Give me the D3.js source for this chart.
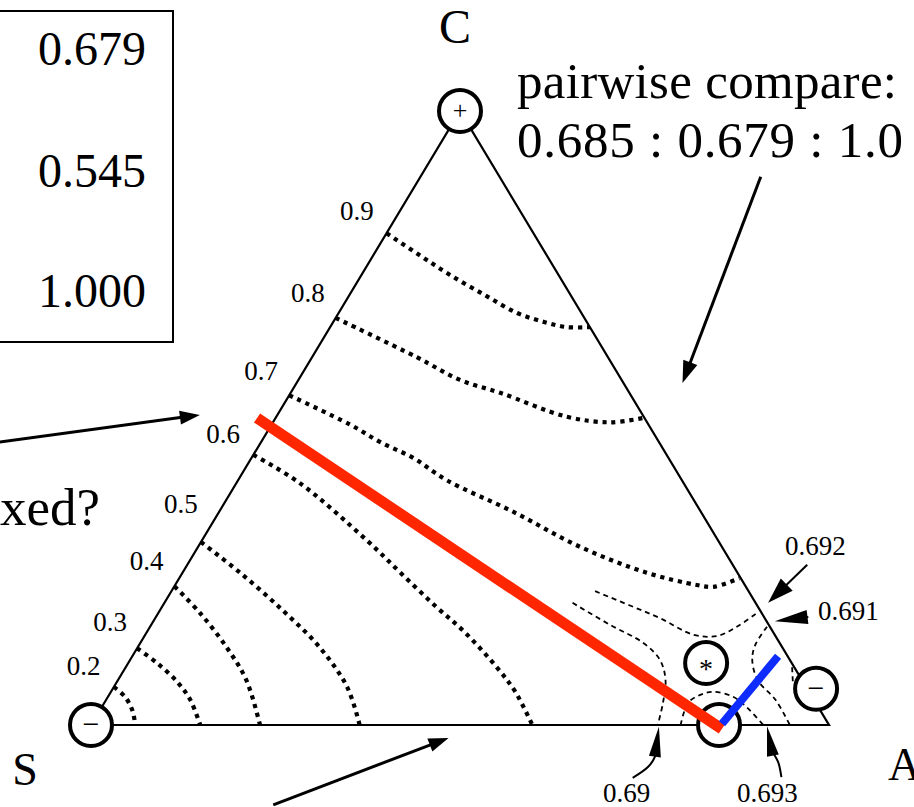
<!DOCTYPE html>
<html><head><meta charset="utf-8">
<script src="https://cdn.jsdelivr.net/npm/d3@7"></script>
<style>body{margin:0;background:#fff} text{font-family:"Liberation Serif","DejaVu Serif",serif}</style>
</head><body>
<svg id="chart" width="914" height="807"></svg>
<script>
// Ternary points are [A share, C share]; S share = 1 - A - C
const vertexNames = ["S", "A", "C"];
const contourLevels = ["0.9","0.8","0.7","0.6","0.5","0.4","0.3","0.2"];
const contour09 = [[0,0.801],[0.063,0.765],[0.120,0.733],[0.184,0.700],[0.242,0.671],[0.287,0.656],[0.321,0.648],[0.352,0.648]];
const contour08 = [[0,0.663],[0.142,0.599],[0.219,0.562],[0.284,0.541],[0.394,0.502],[0.457,0.493],[0.498,0.500]];
const contour07 = [[0,0.537],[0.107,0.489],[0.161,0.461],[0.219,0.435],[0.282,0.399],[0.399,0.347],[0.518,0.290],[0.629,0.248],[0.707,0.228],[0.731,0.225],[0.759,0.239]];
const contour06 = [[0,0.440],[0.086,0.394],[0.223,0.301],[0.294,0.249],[0.368,0.195],[0.431,0.151],[0.504,0.093],[0.548,0.054],[0.598,0]];
const contour05 = [[0,0.298],[0.078,0.248],[0.166,0.187],[0.246,0.127],[0.316,0.062],[0.364,0]];
const contour04 = [[0,0.226],[0.057,0.182],[0.120,0.127],[0.174,0.073],[0.229,0]];
const contour03 = [[0,0.125],[0.039,0.101],[0.082,0.070],[0.114,0.041],[0.148,0]];
const contour02 = [[0,0.062],[0.023,0.046],[0.044,0.024],[0.060,0]];
const labelEdgeC = [0.837,0.704,0.577,0.474,0.360,0.267,0.168,0.096];

// fine contours near the optimum
const fineLevels = ["0.691","0.69","0.693","0.692",""];
const contour0691 = [[0.574,0.218],[0.632,0.195],[0.684,0.174],[0.743,0.147],[0.776,0.145],[0.795,0.160],[0.811,0.182]];
const contour0690 = [[0.553,0.199],[0.622,0.163],[0.681,0.134],[0.718,0.106],[0.742,0.073],[0.757,0.036],[0.768,0]];
const contour0693 = [[0.799,0],[0.791,0.036],[0.801,0.049],[0.816,0.054],[0.847,0.046],[0.874,0.029],[0.911,0]];
const contour0692 = [[0.836,0.160],[0.835,0.130],[0.843,0.106],[0.867,0.073],[0.907,0.041],[0.947,0]];
const contourEdge = [[0.903,0.094],[0.916,0.070]];

const redPath = [[-0.025,0.500],[0.858,-0.0065]];
const bluePath = [[0.854,0.002],[0.875,0.112]];

const markerPoints = [[0,1],[0,0],[0.851,0],[0.783,0.101],[0.953,0.059]];
const markerSymbols = ["+","\u2212","","*","\u2212"];

const boxValues = ["0.679","0.545","1.000"];
const compareLines = ["pairwise compare:","0.685 : 0.679 : 1.0"];
const sideQuestion = "fixed?";

// arrows: shaft points then tip
const arrowShafts = [
  [[-0.354,0.461]],
  [[0.312,-0.130]],
  [[0.461,0.893]],
  [[0.840,0.261]],
  [[0.884,0.176]],
  [[0.777,-0.086],[0.789,-0.068],[0.790,-0.052]],
  [[0.978,-0.085],[0.961,-0.060],[0.945,-0.044]]
];
const arrowTips = [[-0.105,0.505],[0.495,-0.021],[0.523,0.557],[0.818,0.199],[0.842,0.169],[0.771,-0.003],[0.917,-0.002]];
const fineLabels = ["0.692","0.691","0.69","0.693"];

// ---------- layout ----------
const svg = d3.select("#chart");
const serif = "Liberation Serif, DejaVu Serif, serif";
const xScale = d3.scaleLinear().domain([0,1]).range([91, 829]);
const yScale = d3.scaleLinear().domain([0,1]).range([725, 111]);
const proj = d => [xScale(d[0] + d[1]/2), yScale(d[1])];

const smooth = d3.line().x(d => proj(d)[0]).y(d => proj(d)[1]).curve(d3.curveCatmullRom.alpha(0.5));
const straight = d3.line().x(d => proj(d)[0]).y(d => proj(d)[1]);

// triangle edges
const tri = [[0,0],[1,0],[0,1],[0,0]];
svg.append("path").attr("d", straight(tri)).attr("fill","none").attr("stroke","#000").attr("stroke-width",2.2).attr("stroke-linejoin","miter");

// coarse contours (dotted)
const contours = [contour09, contour08, contour07, contour06, contour05, contour04, contour03, contour02];
svg.append("g").selectAll("path").data(contours).join("path")
  .attr("d", smooth).attr("fill","none").attr("stroke","#000")
  .attr("stroke-width",4.2).attr("stroke-dasharray","4.2 4.8");

// contour labels along the S–C edge
svg.append("g").selectAll("text").data(contourLevels).join("text")
  .attr("x",(d,i)=>proj([0,labelEdgeC[i]])[0]-26)
  .attr("y",(d,i)=>proj([0,labelEdgeC[i]])[1]+9)
  .attr("text-anchor","end").attr("font-family",serif).attr("font-size",27).text(d=>d);

// fine contours (dashed)
const fine = [contour0691, contour0690, contour0693, contour0692, contourEdge];
svg.append("g").selectAll("path").data(fine).join("path")
  .attr("d", smooth).attr("fill","none").attr("stroke","#000")
  .attr("stroke-width",1.8).attr("stroke-dasharray","5 4");

// markers
const mg = svg.append("g");
mg.selectAll("circle").data(markerPoints).join("circle")
  .attr("cx",d=>proj(d)[0]).attr("cy",d=>proj(d)[1]).attr("r",21)
  .attr("fill","#fff").attr("stroke","#000").attr("stroke-width",4);
const symSize = {"+":26,"\u2212":30,"*":28,"":10};
const symDy = {"+":8,"\u2212":9,"*":15,"":0};
mg.selectAll("text").data(markerPoints).join("text")
  .attr("x",d=>proj(d)[0]).attr("y",(d,i)=>proj(d)[1]+symDy[markerSymbols[i]])
  .attr("text-anchor","middle").attr("font-family",serif)
  .attr("font-size",(d,i)=>symSize[markerSymbols[i]]).text((d,i)=>markerSymbols[i]);

// red and blue paths
svg.append("path").attr("d",straight(redPath)).attr("stroke","#ff2600").attr("stroke-width",11).attr("fill","none");
svg.append("path").attr("d",straight(bluePath)).attr("stroke","#0f2cff").attr("stroke-width",8).attr("fill","none");

// arrows
const arrowStyle = [
  {w:3,len:20,hw:14},{w:3,len:20,hw:14},{w:3,len:22,hw:15},
  {w:2,len:26,hw:17},{w:2,len:33,hw:14},{w:2,len:30,hw:12},{w:2,len:30,hw:12}
];
const ag = svg.append("g");
arrowTips.forEach((tipT,i)=>{
  const st = arrowStyle[i];
  const tip = proj(tipT);
  const shaft = arrowShafts[i].map(proj);
  const prev = shaft[shaft.length-1];
  const dx = tip[0]-prev[0], dy = tip[1]-prev[1], L = Math.hypot(dx,dy);
  const ux = dx/L, uy = dy/L;
  const base = [tip[0]-ux*st.len, tip[1]-uy*st.len];
  const pts = shaft.concat([[base[0]+ux*2, base[1]+uy*2]]);
  ag.append("path").attr("d", d3.line().curve(d3.curveCatmullRom)(pts))
    .attr("fill","none").attr("stroke","#000").attr("stroke-width",st.w);
  const px = -uy*st.hw/2, py = ux*st.hw/2;
  ag.append("path").attr("d", d3.line()([tip,[base[0]+px,base[1]+py],[base[0]-px,base[1]-py]])+"Z")
    .attr("fill","#000");
});

// fine contour labels
const fineLabelPos = [[785,555],[818,620],[603,802],[737,802]];
svg.append("g").selectAll("text").data(fineLabels).join("text")
  .attr("x",(d,i)=>fineLabelPos[i][0]).attr("y",(d,i)=>fineLabelPos[i][1])
  .attr("font-family",serif).attr("font-size",27).text(d=>d);

// vertex labels
const vertexLabelPos = [[25,785,"middle"],[888,780,"start"],[455,43,"middle"]];
svg.append("g").selectAll("text").data(vertexNames).join("text")
  .attr("x",(d,i)=>vertexLabelPos[i][0]).attr("y",(d,i)=>vertexLabelPos[i][1])
  .attr("text-anchor",(d,i)=>vertexLabelPos[i][2])
  .attr("font-family",serif).attr("font-size",(d,i)=>i===2?48:46).text(d=>d);

// box with values
svg.append("rect").attr("x",-4).attr("y",11).attr("width",177).attr("height",331)
  .attr("fill","none").attr("stroke","#000").attr("stroke-width",2);
const boxBase = [65,187,307];
svg.append("g").selectAll("text").data(boxValues).join("text")
  .attr("x",146).attr("y",(d,i)=>boxBase[i]).attr("text-anchor","end")
  .attr("font-family",serif).attr("font-size",48).text(d=>d);

// compare text
const cmpBase = [98,157], cmpLen = [380,386];
svg.append("g").selectAll("text").data(compareLines).join("text")
  .attr("x",517).attr("y",(d,i)=>cmpBase[i])
  .attr("textLength",(d,i)=>cmpLen[i]).attr("lengthAdjust","spacing")
  .attr("font-family",serif).attr("font-size",51).text(d=>d);

// partially visible question on the left
svg.append("text").attr("x",100).attr("y",525).attr("text-anchor","end")
  .attr("font-family",serif).attr("font-size",53).text(sideQuestion);
</script>
</body></html>
